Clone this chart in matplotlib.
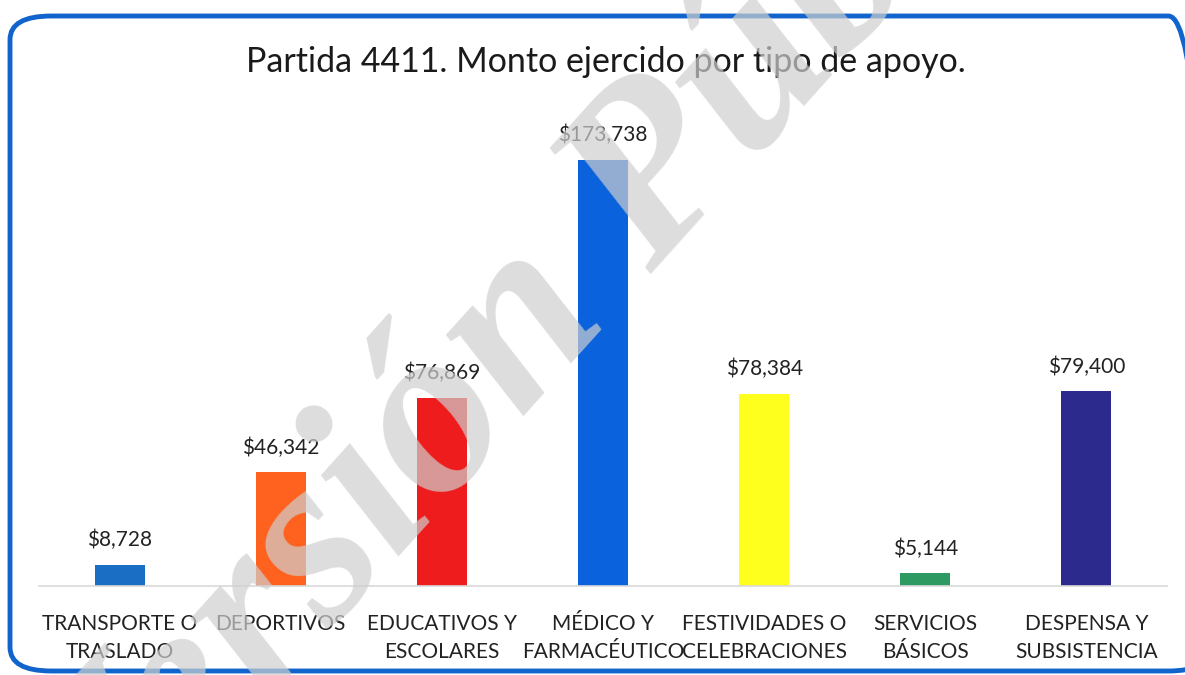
import numpy as np
import matplotlib.pyplot as plt
from matplotlib.patches import FancyBboxPatch

categories = ["TRANSPORTE O\nTRASLADO", "DEPORTIVOS", "EDUCATIVOS Y\nESCOLARES",
              "MÉDICO Y\nFARMACÉUTICO", "FESTIVIDADES O\nCELEBRACIONES",
              "SERVICIOS\nBÁSICOS", "DESPENSA Y\nSUBSISTENCIA"]
montos = [8728, 46342, 76869, 173738, 78384, 5144, 79400]
colores = ["#1a6fc4", "#ff621f", "#ee1c1c", "#0a62dc", "#ffff1e", "#2e9a62", "#2c2a8c"]
titulo = "Partida 4411. Monto ejercido por tipo de apoyo."

plt.rcParams['font.family'] = ['Lato', 'DejaVu Sans']

fig = plt.figure(figsize=(11.85, 6.75), dpi=100)
ax = fig.add_axes([39 / 1185, 89 / 675, 1128 / 1185, 456 / 675])

x = np.arange(len(montos))
ax.bar(x, montos, width=0.31, color=colores, zorder=2)
for xi, v in zip(x, montos):
    ax.text(xi, v + 6000, "${:,}".format(v), ha="center", va="bottom",
            fontsize=15, color="#222222")

ax.set_xlim(-0.5, 6.5)
ax.set_ylim(0, 186000)
ax.set_xticks(x)
ax.set_xticklabels(categories, fontsize=15, color="#222222", linespacing=1.5)
ax.tick_params(axis="x", length=0, pad=20)
ax.set_yticks([])
for s in ["top", "right", "left"]:
    ax.spines[s].set_visible(False)
ax.spines["bottom"].set_color("#d9d9d9")
ax.spines["bottom"].set_linewidth(1.2)

fig.text(0.511, 0.908, titulo, ha="center", va="center", fontsize=24.5, color="#1a1a1a")

# borde redondeado azul
borde = FancyBboxPatch((10 / 1185, 4 / 675), 1200 / 1185, 655 / 675,
                       boxstyle="round,pad=0,rounding_size=0.035",
                       transform=fig.transFigure, fill=False,
                       edgecolor="#1064cc", linewidth=3.5, zorder=5)
fig.add_artist(borde)

# marca de agua
fig.text(0.5, 0.625, "Versión Pública", fontsize=175, rotation=48,
         ha="center", va="center", rotation_mode="anchor",
         family="Liberation Serif", weight="bold", style="italic",
         color="#cfcfcf", alpha=0.7, zorder=10)

fig.savefig("out.png", dpi=100)
